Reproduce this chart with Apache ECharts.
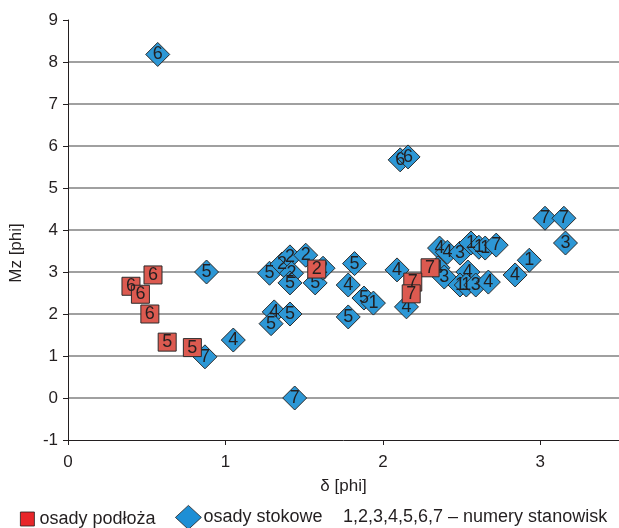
<!DOCTYPE html>
<html>
<head>
<meta charset="utf-8">
<script src="https://cdn.jsdelivr.net/npm/echarts@6/dist/echarts.min.js"></script>
<style>
  html, body { margin: 0; padding: 0; background: #fff; }
  #chart { width: 619px; height: 528px; }
</style>
</head>
<body>
<div id="chart"></div>
<script>
// Osady podłoża: sortowanie (δ) vs średnia średnica ziarna (Mz), z numerem stanowiska
const podlozeDelta = [0.54, 0.40, 0.46, 0.52, 0.63, 0.79, 1.58, 2.30, 2.19, 2.18];
const podlozeMz    = [2.93, 2.66, 2.47, 2.00, 1.33, 1.20, 3.07, 3.10, 2.76, 2.48];
const podlozeSite  = ['6', '6', '6', '6', '5', '5', '2', '7', '7', '7'];

// Osady stokowe
const stokoweDelta = [0.57, 2.11, 2.16, 0.88, 0.87, 1.05, 1.44, 1.31, 1.29, 1.41,
                      1.28, 1.36, 1.41, 1.42, 1.41, 1.51, 1.57, 1.62,
                      1.82, 1.78, 1.88, 1.94, 1.78, 2.09, 2.15,
                      2.36, 2.41, 2.49, 2.56, 2.61, 2.65, 2.72, 2.35, 2.39,
                      2.54, 2.49, 2.53, 2.59, 2.67, 2.84, 2.93, 3.03, 3.15, 3.16];
const stokoweMz    = [8.18, 5.67, 5.74, 3.00, 0.98, 1.38, 0.00, 2.05, 1.77, 2.00,
                      2.97, 3.19, 3.36, 2.97, 2.74, 3.40, 2.74, 3.09,
                      3.20, 2.69, 2.38, 2.26, 1.93, 3.05, 2.17,
                      3.57, 3.47, 3.45, 3.69, 3.59, 3.57, 3.64, 3.10, 2.88,
                      3.00, 2.69, 2.69, 2.69, 2.76, 2.93, 3.28, 4.28, 4.28, 3.69];
const stokoweSite  = ['6', '6', '6', '5', '7', '4', '7', '4', '5', '5',
                      '5', '2', '2', '2', '5', '2', '5', '2',
                      '5', '4', '5', '1', '5', '4', '4',
                      '4', '4', '3', '1', '1', '1', '7', '4', '3',
                      '4', '1', '1', '3', '4', '4', '1', '7', '7', '3'];

const xTicks = [0, 1, 2, 3];
const yTicks = [-1, 0, 1, 2, 3, 4, 5, 6, 7, 8, 9];

const FONT = '"Liberation Sans", Arial, sans-serif';
const INK = '#231f20';

function points(xs, ys, sites) {
  return xs.map((x, i) => [x, ys[i], sites[i]]);
}

const chart = echarts.init(document.getElementById('chart'), null, { renderer: 'canvas' });

const labelStyle = {
  show: true,
  position: 'inside',
  formatter: p => p.value[2],
  fontFamily: FONT,
  fontSize: 18,
  color: INK
};

chart.setOption({
  animation: false,
  backgroundColor: '#ffffff',
  textStyle: { fontFamily: FONT },
  grid: { left: 68, right: -2, top: 20, bottom: 88 },
  xAxis: {
    type: 'value',
    min: xTicks[0],
    max: 3.5,
    interval: 1,
    name: 'δ [phi]',
    nameLocation: 'middle',
    nameGap: 38,
    nameTextStyle: { fontFamily: FONT, fontSize: 17, color: INK },
    axisLine: { show: true, onZero: false, lineStyle: { color: INK, width: 1 } },
    axisTick: { show: true, length: 5, lineStyle: { color: INK } },
    axisLabel: {
      fontFamily: FONT, fontSize: 17, color: INK, margin: 14,
      showMaxLabel: false,
      formatter: v => (xTicks.includes(v) ? String(v) : '')
    },
    splitLine: { show: false }
  },
  yAxis: {
    type: 'value',
    min: yTicks[0],
    max: yTicks[yTicks.length - 1],
    interval: 1,
    axisLine: { show: true, onZero: false, lineStyle: { color: INK, width: 1 } },
    axisTick: { show: true, length: 5, lineStyle: { color: INK } },
    axisLabel: { fontFamily: FONT, fontSize: 17, color: INK, margin: 10 },
    splitLine: {
      show: true,
      showMinLine: false,
      showMaxLine: false,
      lineStyle: { color: '#808080', width: 1.5 }
    }
  },
  legend: [
    {
      left: 20, top: 510, padding: 0,
      itemWidth: 14, itemHeight: 14,
      textStyle: { fontFamily: FONT, fontSize: 18, color: INK },
      data: [{ name: 'osady podłoża', icon: 'rect', itemStyle: { color: '#e8262a', borderColor: INK, borderWidth: 0.8 } }]
    },
    {
      left: 175, top: 505, padding: 0,
      itemWidth: 26, itemHeight: 24,
      textStyle: { fontFamily: FONT, fontSize: 18, color: INK, padding: [0, 0, 0, -3] },
      data: [{ name: 'osady stokowe', icon: 'diamond', itemStyle: { color: '#1e8fd5', borderColor: INK, borderWidth: 0.8 } }]
    }
  ],
  graphic: [
    {
      type: 'text',
      left: 343, top: 508,
      style: { text: '1,2,3,4,5,6,7 – numery stanowisk', fontFamily: FONT, fontSize: 18, fill: INK }
    },
    {
      type: 'text',
      x: 16, y: 253,
      rotation: Math.PI / 2,
      style: { text: 'Mz [phi]', fontFamily: FONT, fontSize: 17, fill: INK, align: 'center', verticalAlign: 'middle' }
    }
  ],
  series: [
    {
      name: 'osady podłoża',
      type: 'scatter',
      z: 4,
      symbol: 'rect',
      symbolSize: 18,
      itemStyle: { color: '#dc5a50', borderColor: '#2b2b2b', borderWidth: 1, opacity: 1 },
      label: labelStyle,
      data: points(podlozeDelta, podlozeMz, podlozeSite)
    },
    {
      name: 'osady stokowe',
      type: 'scatter',
      z: 3,
      symbol: 'diamond',
      symbolSize: 24,
      itemStyle: { color: '#2d97d5', borderColor: '#2b2b2b', borderWidth: 1, opacity: 1 },
      label: labelStyle,
      data: points(stokoweDelta, stokoweMz, stokoweSite)
    }
  ]
});
</script>
</body>
</html>
